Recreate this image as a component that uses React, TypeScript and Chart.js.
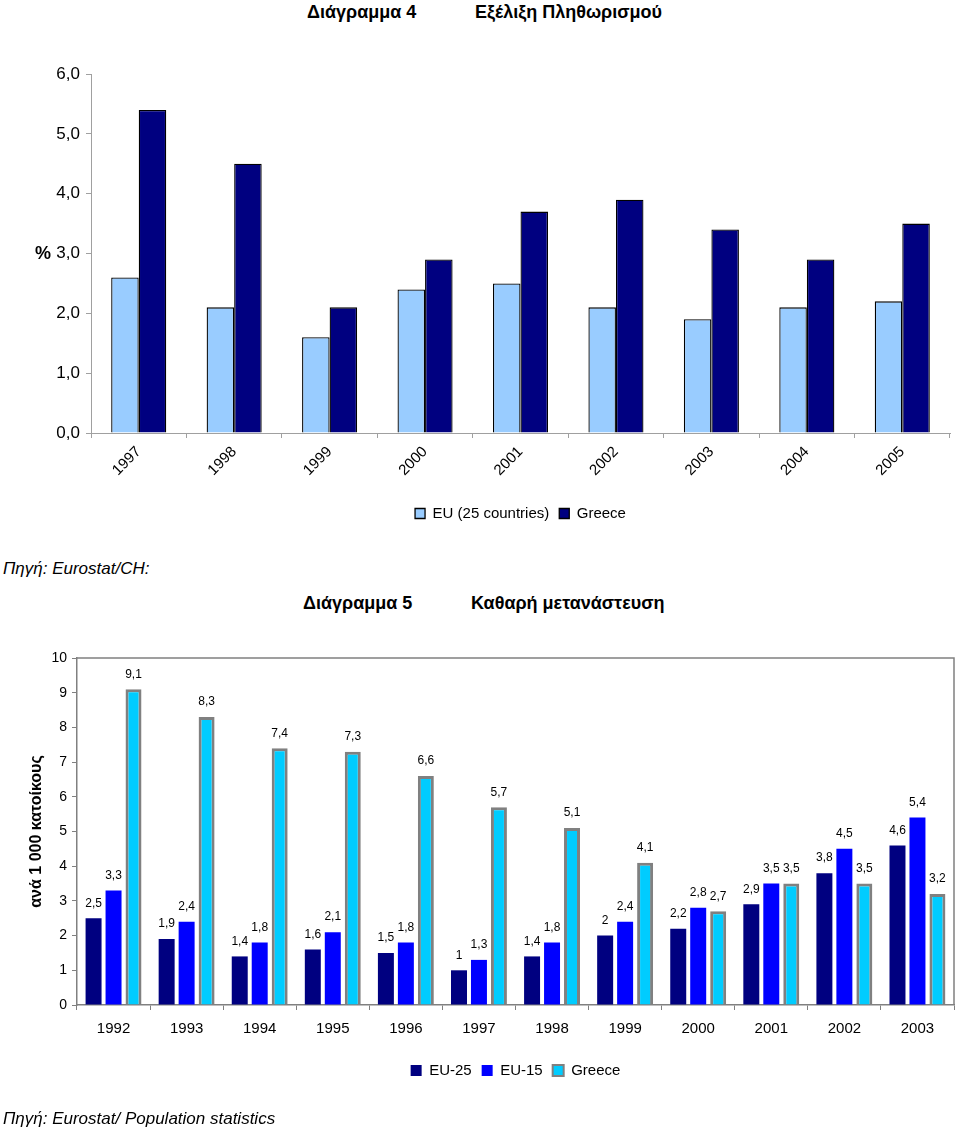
import React, { useEffect, useRef } from "react";
import { Chart, registerables } from "chart.js";

Chart.register(...registerables);

const FONT = "'Liberation Sans', Arial, Helvetica, sans-serif";

// Διάγραμμα 4 – Εξέλιξη Πληθωρισμού
const inflationYears = ["1997", "1998", "1999", "2000", "2001", "2002", "2003", "2004", "2005"];
const inflationEU25 = [2.6, 2.1, 1.6, 2.4, 2.5, 2.1, 1.9, 2.1, 2.2];
const inflationGreece = [5.4, 4.5, 2.1, 2.9, 3.7, 3.9, 3.4, 2.9, 3.5];

// Διάγραμμα 5 – Καθαρή μετανάστευση
const migrationYears = ["1992", "1993", "1994", "1995", "1996", "1997", "1998", "1999", "2000", "2001", "2002", "2003"];
const migrationEU25 = [2.5, 1.9, 1.4, 1.6, 1.5, 1, 1.4, 2, 2.2, 2.9, 3.8, 4.6];
const migrationEU15 = [3.3, 2.4, 1.8, 2.1, 1.8, 1.3, 1.8, 2.4, 2.8, 3.5, 4.5, 5.4];
const migrationGreece = [9.1, 8.3, 7.4, 7.3, 6.6, 5.7, 5.1, 4.1, 2.7, 3.5, 3.5, 3.2];

const comma = (v: number) => String(v).replace(".", ",");

const framePlugin = {
  id: "frame",
  afterDraw(chart: any) {
    const { ctx, chartArea } = chart;
    ctx.save();
    ctx.strokeStyle = "#808080";
    ctx.lineWidth = 1.5;
    ctx.beginPath();
    ctx.moveTo(chartArea.left, chartArea.top);
    ctx.lineTo(chartArea.right, chartArea.top);
    ctx.lineTo(chartArea.right, chartArea.bottom);
    ctx.stroke();
    ctx.restore();
  },
};

const valueLabelPlugin = {
  id: "valueLabels",
  afterDatasetsDraw(chart: any) {
    const { ctx } = chart;
    ctx.save();
    ctx.font = `12px ${FONT}`;
    ctx.fillStyle = "#000";
    ctx.textAlign = "center";
    ctx.textBaseline = "middle";
    chart.data.datasets.forEach((ds: any, i: number) => {
      const meta = chart.getDatasetMeta(i);
      meta.data.forEach((el: any, j: number) => {
        ctx.fillText(comma(ds.data[j]), el.x, el.y - 15);
      });
    });
    ctx.restore();
  },
};

function InflationChart() {
  const ref = useRef<HTMLCanvasElement | null>(null);
  useEffect(() => {
    if (!ref.current) return;
    const chart = new Chart(ref.current, {
      type: "bar",
      data: {
        labels: inflationYears,
        datasets: [
          {
            label: "EU (25 countries)",
            data: inflationEU25,
            backgroundColor: "#99CCFF",
            borderColor: "#000000",
            borderWidth: 1.3,
            categoryPercentage: 0.577,
            barPercentage: 1,
          },
          {
            label: "Greece",
            data: inflationGreece,
            backgroundColor: "#000080",
            borderColor: "#000000",
            borderWidth: 1.3,
            categoryPercentage: 0.577,
            barPercentage: 1,
          },
        ],
      },
      options: {
        responsive: false,
        animation: false,
        layout: { padding: { left: 0, right: 10, top: 34, bottom: 9 } },
        plugins: {
          legend: {
            position: "bottom",
            fullSize: false,
            labels: {
              boxWidth: 10,
              boxHeight: 10,
              padding: 10,
              color: "#000",
              font: { size: 15, family: FONT },
            },
          },
          tooltip: { enabled: false },
        },
        scales: {
          x: {
            grid: { display: true, drawOnChartArea: false, drawTicks: true, tickLength: 5, color: "#a0a0a0", offset: true },
            border: { color: "#a0a0a0" },
            ticks: { minRotation: 45, maxRotation: 45, color: "#000", font: { size: 15, family: FONT }, padding: 5 },
            afterFit: (s: any) => {
              s.height = 63;
            },
          },
          y: {
            min: 0,
            max: 6,
            grid: { display: true, drawOnChartArea: false, drawTicks: true, tickLength: 5, color: "#a0a0a0" },
            border: { color: "#a0a0a0" },
            ticks: {
              stepSize: 1,
              color: "#000",
              padding: 6,
              font: { size: 17, family: FONT },
              callback: (v: any) => Number(v).toFixed(1).replace(".", ","),
            },
            afterFit: (s: any) => {
              s.width = 91;
            },
          },
        },
      },
    } as any);
    return () => chart.destroy();
  }, []);
  return (
    <canvas
      ref={ref}
      width={960}
      height={500}
      style={{ position: "absolute", left: 0, top: 40, width: 960, height: 500 }}
    />
  );
}

function MigrationChart() {
  const ref = useRef<HTMLCanvasElement | null>(null);
  useEffect(() => {
    if (!ref.current) return;
    const common = { categoryPercentage: 0.82, barPercentage: 0.8 };
    const chart = new Chart(ref.current, {
      type: "bar",
      data: {
        labels: migrationYears,
        datasets: [
          { label: "EU-25", data: migrationEU25, backgroundColor: "#000080", borderWidth: 0, ...common },
          { label: "EU-15", data: migrationEU15, backgroundColor: "#0000FF", borderWidth: 0, ...common },
          {
            label: "Greece",
            data: migrationGreece,
            backgroundColor: "#00CCFF",
            borderColor: "#808080",
            borderWidth: 3,
            ...common,
          },
        ],
      },
      options: {
        responsive: false,
        animation: false,
        layout: { padding: { left: 0, right: 6, top: 38, bottom: 44 } },
        plugins: {
          legend: {
            position: "bottom",
            fullSize: false,
            labels: {
              boxWidth: 11,
              boxHeight: 11,
              padding: 10,
              color: "#000",
              font: { size: 15, family: FONT },
              generateLabels: (chart: any) => {
                const items = Chart.defaults.plugins.legend.labels.generateLabels(chart);
                return items.map((it: any) => ({ ...it, lineWidth: Math.min(it.lineWidth || 0, 2) }));
              },
            },
          },
          tooltip: { enabled: false },
        },
        scales: {
          x: {
            grid: { display: true, drawOnChartArea: false, drawTicks: true, tickLength: 5, color: "#808080", offset: true },
            border: { color: "#808080", width: 1.5 },
            ticks: { color: "#000", font: { size: 15, family: FONT }, padding: 10, maxRotation: 0 },
            afterFit: (s: any) => {
              s.height = 48;
            },
          },
          y: {
            min: 0,
            max: 10,
            grid: { display: true, drawOnChartArea: false, drawTicks: true, tickLength: 5, color: "#808080" },
            border: { color: "#808080", width: 1.5 },
            ticks: { stepSize: 1, color: "#000", padding: 5, font: { size: 14, family: FONT } },
            title: {
              display: true,
              text: "ανά 1 000 κατοίκους",
              color: "#000",
              font: { size: 16, weight: "bold", family: FONT },
              padding: { top: 27, bottom: 0 },
            },
            afterFit: (s: any) => {
              s.width = 77;
            },
          },
        },
      },
      plugins: [framePlugin, valueLabelPlugin],
    } as any);
    return () => chart.destroy();
  }, []);
  return (
    <canvas
      ref={ref}
      width={960}
      height={512}
      style={{ position: "absolute", left: 0, top: 620, width: 960, height: 512 }}
    />
  );
}

const textBase: React.CSSProperties = {
  position: "absolute",
  fontFamily: FONT,
  color: "#000",
  whiteSpace: "nowrap",
  lineHeight: "20px",
  margin: 0,
};

export default function App() {
  return (
    <div
      style={{
        position: "absolute",
        left: 0,
        top: 0,
        width: 960,
        height: 1132,
        background: "#fff",
        overflow: "hidden",
        fontFamily: FONT,
      }}
    >
      <InflationChart />
      <MigrationChart />
      <div style={{ ...textBase, left: 307, top: 2, fontSize: 18, fontWeight: "bold" }}>Διάγραμμα 4</div>
      <div style={{ ...textBase, left: 475, top: 2, fontSize: 18, fontWeight: "bold" }}>Εξέλιξη Πληθωρισμού</div>
      <div style={{ ...textBase, left: 35, top: 243, fontSize: 18, fontWeight: "bold" }}>%</div>
      <div style={{ ...textBase, left: 3, top: 559, fontSize: 17, fontStyle: "italic" }}>Πηγή: Eurostat/CH:</div>
      <div style={{ ...textBase, left: 303, top: 593, fontSize: 18, fontWeight: "bold" }}>Διάγραμμα 5</div>
      <div style={{ ...textBase, left: 471, top: 593, fontSize: 18, fontWeight: "bold" }}>Καθαρή μετανάστευση</div>
      <div style={{ ...textBase, left: 3, top: 1109, fontSize: 17, fontStyle: "italic" }}>
        Πηγή: Eurostat/ Population statistics
      </div>
    </div>
  );
}
